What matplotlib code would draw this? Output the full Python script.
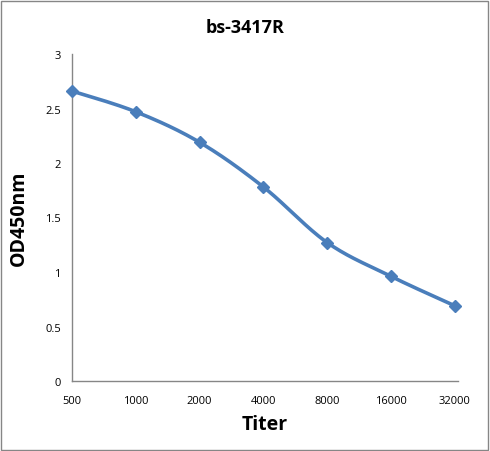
import matplotlib
matplotlib.use("Agg")
import matplotlib.pyplot as plt
import numpy as np
from matplotlib.patches import Rectangle

titers = ["500", "1000", "2000", "4000", "8000", "16000", "32000"]
od450 = [2.66, 2.47, 2.19, 1.78, 1.27, 0.96, 0.69]
yticks = [0, 0.5, 1, 1.5, 2, 2.5, 3]
ytick_labels = ["0", "0.5", "1", "1.5", "2", "2.5", "3"]

plt.rcParams['font.family'] = ['Open Sans', 'DejaVu Sans']

W, H = 490, 452
fig = plt.figure(figsize=(W/100, H/100), dpi=100)
ax = fig.add_axes([72/W, (H-382)/H, (458-72)/W, (382-55)/H])

x = np.arange(len(titers))
y = np.array(od450)

# Catmull-Rom smoothing (like Excel smoothed line)
def smooth(xp, yp, n=30):
    P = np.column_stack([xp, yp]).astype(float)
    P = np.vstack([P[0], P, P[-1]])
    out = []
    for i in range(1, len(P)-2):
        p0, p1, p2, p3 = P[i-1], P[i], P[i+1], P[i+2]
        t = np.linspace(0, 1, n)[:, None]
        c1 = p1 + (p2 - p0)/6
        c2 = p2 - (p3 - p1)/6
        seg = (1-t)**3*p1 + 3*(1-t)**2*t*c1 + 3*(1-t)*t**2*c2 + t**3*p2
        out.append(seg)
    s = np.vstack(out)
    return s[:, 0], s[:, 1]

sx, sy = smooth(x, y)
color = "#4a7ebb"
ax.plot(sx, sy, color=color, lw=2.6, solid_capstyle='round', clip_on=False)
ax.plot(x, y, linestyle='none', marker='D', ms=6, color=color, clip_on=False, zorder=3)

ax.set_xlim(0, 6.05)
ax.set_ylim(0, 3)
ax.set_xticks(x)
ax.set_xticklabels(titers, fontsize=8)
ax.set_yticks(yticks)
ax.set_yticklabels(ytick_labels, fontsize=8)
ax.tick_params(length=0, pad=10)
ax.tick_params(axis='y', pad=8)
for s in ['top', 'right']:
    ax.spines[s].set_visible(False)
for s in ['left', 'bottom']:
    ax.spines[s].set_color('#868686')
    ax.spines[s].set_linewidth(1)
    ax.spines[s].set_zorder(1)

ax.set_xlabel("Titer", fontsize=14, fontweight='bold', labelpad=6)
ax.set_ylabel("OD450nm", fontsize=14, fontweight='bold', labelpad=12)
fig.text(0.5, (H-28)/H, "bs-3417R", ha='center', va='center', fontsize=13, fontweight='bold')

fig.patches.append(Rectangle((1/W, 1/H), (W-3)/W, (H-3)/H, transform=fig.transFigure,
                             fill=False, edgecolor='#868686', lw=1))

fig.savefig("out.png", dpi=100)
